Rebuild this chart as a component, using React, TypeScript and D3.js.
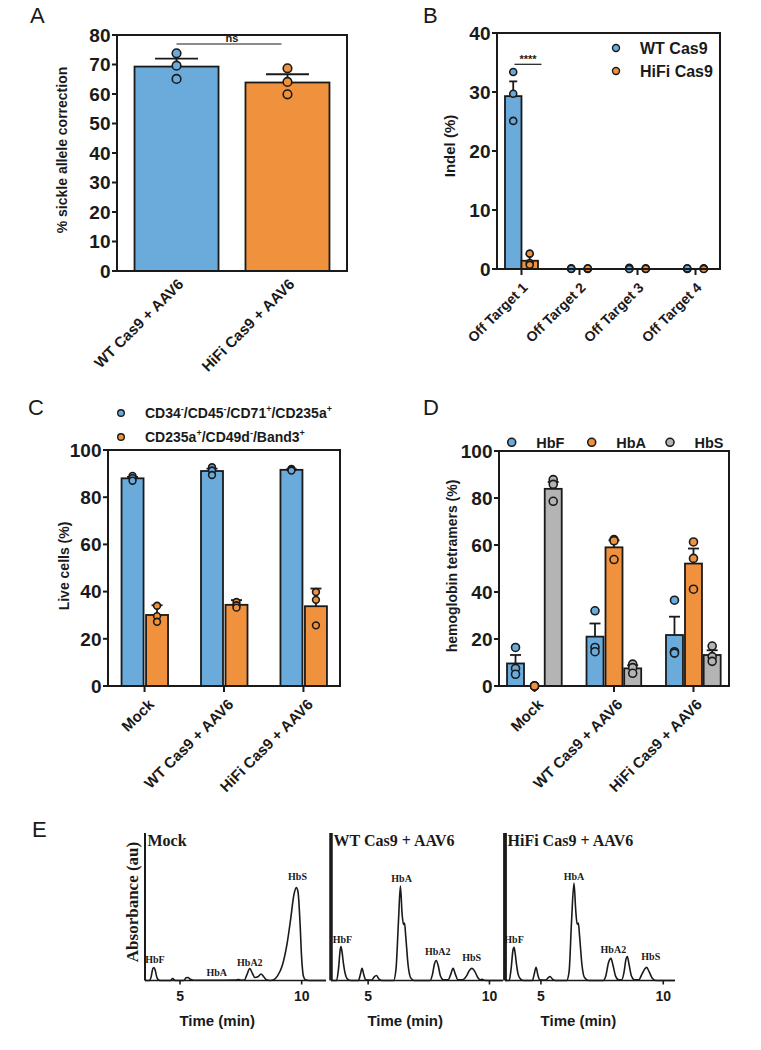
import React from "react";
import * as d3 from "d3";

// ---------- Data ----------
// Panel A
const groupsA = ["WT Cas9 + AAV6", "HiFi Cas9 + AAV6"];
const meansA = [69.3, 63.9];
const errA = [2.7, 2.8];
const pointsA = [
  [73.8, 69.6, 65.1],
  [68.7, 64.1, 59.9],
];
const ticksA = [0, 10, 20, 30, 40, 50, 60, 70, 80];

// Panel B
const targetsB = ["Off Target 1", "Off Target 2", "Off Target 3", "Off Target 4"];
const wtMeansB = [29.3, 0.05, 0.1, 0.05];
const wtErrB = [2.5, 0, 0, 0];
const wtPointsB = [
  [33.4, 29.7, 25.1],
  [0.1, 0.0, 0.05],
  [0.2, 0.1, 0.0],
  [0.05, 0.0, 0.1],
];
const hifiMeansB = [1.4, 0.05, 0.05, 0.05];
const hifiErrB = [1.1, 0, 0, 0];
const hifiPointsB = [
  [2.6, 1.0, 0.7],
  [0.05, 0.0, 0.1],
  [0.1, 0.0, 0.05],
  [0.05, 0.1, 0.0],
];
const ticksB = [0, 10, 20, 30, 40];

// Panel C & D categories
const groupsCD = ["Mock", "WT Cas9 + AAV6", "HiFi Cas9 + AAV6"];

// Panel C
const erythroidMeans = [88.0, 91.1, 91.6];
const erythroidErr = [0.6, 1.0, 0.2];
const erythroidPoints = [
  [89.0, 88.1, 87.0],
  [92.7, 91.3, 89.4],
  [92.0, 91.6, 91.3],
];
const enucleatedMeans = [30.1, 34.4, 33.8];
const enucleatedErr = [4.1, 2.0, 7.5];
const enucleatedPoints = [
  [34.0, 29.6, 27.2],
  [35.6, 34.2, 33.2],
  [39.8, 36.5, 25.7],
];
const ticksC = [0, 20, 40, 60, 80, 100];

// Panel D
const hbFMeans = [9.6, 21.0, 21.7];
const hbFErr = [3.6, 5.6, 7.8];
const hbFPoints = [
  [16.4, 7.5, 5.0],
  [32.0, 16.4, 14.6],
  [36.5, 14.6, 14.0],
];
const hbAMeans = [0, 59.0, 52.1];
const hbAErr = [0, 3.0, 6.4];
const hbAPoints = [
  [0, 0, 0],
  [62.3, 61.8, 53.8],
  [61.3, 54.3, 41.2],
];
const hbSMeans = [83.9, 7.5, 13.2];
const hbSErr = [2.9, 1.3, 2.0];
const hbSPoints = [
  [87.8, 85.8, 78.6],
  [9.3, 7.8, 5.4],
  [17.0, 12.5, 10.5],
];
const ticksD = [0, 20, 40, 60, 80, 100];

// Panel E chromatograms: [time (min), absorbance (au)]
const mockTrace: [number, number][] = [
  [3.56, 0], [3.75, 0], [3.82, 3], [3.88, 8], [3.93, 8.8], [3.98, 7], [4.05, 2], [4.12, 0.3], [4.2, 0],
  [4.6, 0], [4.7, 1.4], [4.8, 0], [5.15, 0], [5.25, 1.8], [5.33, 2], [5.42, 0.8], [5.55, 0.2],
  [6.5, 0.2], [7.3, 0.3], [7.4, 0.7], [7.5, 0.2], [7.65, 0.3], [7.75, 4], [7.87, 8.1], [7.97, 5],
  [8.08, 2], [8.2, 2.5], [8.33, 4.4], [8.42, 3], [8.55, 0.5], [8.7, 0], [8.85, 0.5], [9.0, 3],
  [9.2, 10], [9.4, 25], [9.55, 42], [9.68, 58], [9.78, 63], [9.85, 60], [9.93, 40], [10.0, 15],
  [10.07, 3], [10.15, 0.5], [10.3, 0], [11.0, 0],
];
const wtTrace: [number, number][] = [
  [3.47, 0], [3.7, 0], [3.78, 8], [3.85, 21], [3.88, 23], [3.92, 20], [3.98, 12], [4.05, 5], [4.15, 1],
  [4.3, 0], [4.6, 0], [4.68, 4], [4.75, 8.2], [4.82, 4], [4.9, 0.5], [5.15, 0.3], [5.25, 2.5],
  [5.34, 3.4], [5.45, 1], [5.6, 0], [6.05, 0], [6.15, 8], [6.25, 40], [6.33, 64], [6.4, 45],
  [6.46, 38], [6.5, 39], [6.55, 30], [6.65, 10], [6.75, 2], [6.9, 0], [7.55, 0], [7.65, 4],
  [7.73, 11], [7.81, 13.6], [7.89, 10], [7.98, 3], [8.1, 0.5], [8.3, 0.5], [8.4, 4], [8.5, 8.2],
  [8.6, 4], [8.7, 0.5], [8.9, 0.5], [9.05, 3], [9.18, 7], [9.28, 8.2], [9.4, 6], [9.52, 2],
  [9.62, 0.5], [9.7, 0.8], [9.78, 0.2], [10.0, 0], [10.55, 0],
];
const hifiTrace: [number, number][] = [
  [3.53, 0], [3.7, 0], [3.78, 8], [3.86, 21], [3.9, 22.5], [3.94, 19], [4.0, 11], [4.07, 4], [4.18, 0.8],
  [4.3, 0], [4.65, 0], [4.72, 4], [4.8, 8.9], [4.87, 4], [4.95, 0.5], [5.2, 0.3], [5.3, 2],
  [5.37, 2.7], [5.47, 1], [5.6, 0], [6.05, 0], [6.15, 6], [6.25, 40], [6.35, 66], [6.42, 48],
  [6.48, 38], [6.53, 39], [6.58, 30], [6.68, 10], [6.78, 2], [6.95, 0], [7.55, 0], [7.65, 3],
  [7.76, 12], [7.86, 15], [7.95, 10], [8.05, 3], [8.18, 0.5], [8.3, 0.5], [8.4, 6], [8.47, 14],
  [8.53, 16.3], [8.6, 11], [8.7, 3], [8.82, 0.5], [9.0, 0.5], [9.12, 4], [9.25, 8], [9.32, 8.9],
  [9.42, 6], [9.55, 1.5], [9.7, 0], [10.48, 0],
];
const mockPeakLabels: [string, number, number][] = [
  ["HbF", 3.97, 13.9], ["HbA", 6.51, 5.1], ["HbA2", 7.87, 12.1], ["HbS", 9.83, 70.4],
];
const wtPeakLabels: [string, number, number][] = [
  ["HbF", 3.94, 28.1], ["HbA", 6.38, 69.3], ["HbA2", 7.87, 19.5], ["HbS", 9.27, 15.7],
];
const hifiPeakLabels: [string, number, number][] = [
  ["HbF", 3.9, 27.5], ["HbA", 6.35, 70.8], ["HbA2", 7.96, 21.2], ["HbS", 9.49, 16.1],
];
const timeTicks = [5, 10];

// ---------- Styles ----------
const BLUE = "#6aabdc";
const ORANGE = "#f0913e";
const GRAY = "#b4b4b4";
const INK = "#1a1a1a";
const SANS = "'Liberation Sans', Arial, sans-serif";
const SERIF = "'Liberation Serif', 'Times New Roman', serif";
const TICK_SIZE = 19;

type Series = { means: number[]; err: number[]; points: number[][]; color: string };

function YAxis({ y, ticks, x0 }: { y: d3.ScaleLinear<number, number>; ticks: number[]; x0: number }) {
  return (
    <g>
      {ticks.map((t) => (
        <g key={t}>
          <line x1={x0 - 5} x2={x0} y1={y(t)} y2={y(t)} stroke={INK} strokeWidth={2} />
          <text x={x0 - 6.5} y={y(t)} dy="0.36em" textAnchor="end" fontSize={TICK_SIZE} fontWeight="bold" fontFamily={SANS} fill={INK}>
            {t}
          </text>
        </g>
      ))}
    </g>
  );
}

function BarsWithPoints({
  series, cx, width, y, cap, r,
}: {
  series: Series; cx: (i: number) => number; width: number; y: d3.ScaleLinear<number, number>; cap: number; r: number;
}) {
  return (
    <g>
      {series.means.map((m, i) => {
        const c = cx(i);
        return (
          <g key={i}>
            {m > 0.3 && (
              <rect x={c - width / 2} y={y(m)} width={width} height={y(0) - y(m)} fill={series.color} stroke={INK} strokeWidth={1.8} />
            )}
            {series.err[i] > 0 && (
              <g stroke={INK} strokeWidth={1.8}>
                <line x1={c} x2={c} y1={y(m)} y2={y(m + series.err[i])} />
                <line x1={c - cap / 2} x2={c + cap / 2} y1={y(m + series.err[i])} y2={y(m + series.err[i])} />
              </g>
            )}
            {series.points[i].map((p, j) => (
              <circle key={j} cx={c} cy={y(p)} r={r} fill={series.color} stroke={INK} strokeWidth={1.6} />
            ))}
          </g>
        );
      })}
    </g>
  );
}

function RotLabels({ labels, xs, y0, dx, dy, size }: { labels: string[]; xs: number[]; y0: number; dx: number; dy: number; size: number }) {
  return (
    <g>
      {labels.map((l, i) => (
        <text key={l} transform={`translate(${xs[i] + dx},${y0 + dy}) rotate(-45)`} textAnchor="end" fontSize={size} fontWeight="bold" fontFamily={SANS} fill={INK}>
          {l}
        </text>
      ))}
    </g>
  );
}

function PanelA() {
  const x = d3.scaleBand().domain(groupsA).range([117, 347]).paddingInner(0.243).paddingOuter(0.158);
  const y = d3.scaleLinear().domain([0, 80]).range([271, 35]);
  const bw = x.bandwidth();
  const cx = (i: number) => (x(groupsA[i]) as number) + bw / 2;
  const colors = [BLUE, ORANGE];
  return (
    <g>
      <text x={30} y={23} fontSize={22} fontFamily={SANS} fill={INK}>A</text>
      {groupsA.map((g, i) => (
        <BarsWithPoints
          key={g}
          series={{ means: [meansA[i]], err: [errA[i]], points: [pointsA[i]], color: colors[i] }}
          cx={() => cx(i)}
          width={bw}
          y={y}
          cap={43}
          r={4.3}
        />
      ))}
      <rect x={117} y={35} width={230} height={236} fill="none" stroke={INK} strokeWidth={2} />
      <YAxis y={y} ticks={ticksA} x0={117} />
      <line x1={cx(0)} x2={cx(1) - 6} y1={44} y2={44} stroke={INK} strokeWidth={1.2} />
      <text x={(cx(0) + cx(1)) / 2} y={42} textAnchor="middle" fontSize={11} fontWeight="bold" fontFamily={SANS} fill={INK}>ns</text>
      <text transform={`translate(67,150) rotate(-90)`} textAnchor="middle" fontSize={14} fontWeight="bold" fontFamily={SANS} fill={INK}>
        % sickle allele correction
      </text>
      <RotLabels labels={groupsA} xs={[cx(0), cx(1)]} y0={271} dx={8} dy={14} size={15} />
    </g>
  );
}

function PanelB() {
  const x = d3.scalePoint().domain(targetsB).range([497, 720]).padding(0.422);
  const y = d3.scaleLinear().domain([0, 40]).range([269, 33]);
  const bw = 16.5;
  const cx = (i: number) => x(targetsB[i]) as number;
  return (
    <g>
      <text x={423} y={23} fontSize={22} fontFamily={SANS} fill={INK}>B</text>
      <BarsWithPoints series={{ means: wtMeansB, err: wtErrB, points: wtPointsB, color: BLUE }} cx={(i) => cx(i) - bw / 2} width={bw} y={y} cap={8} r={3.5} />
      <BarsWithPoints series={{ means: hifiMeansB, err: hifiErrB, points: hifiPointsB, color: ORANGE }} cx={(i) => cx(i) + bw / 2} width={bw} y={y} cap={8} r={3.5} />
      <rect x={497} y={33} width={223} height={236} fill="none" stroke={INK} strokeWidth={2} />
      <YAxis y={y} ticks={ticksB} x0={497} />
      {targetsB.map((t, i) => (
        <line key={t} x1={cx(i)} x2={cx(i)} y1={269} y2={275} stroke={INK} strokeWidth={2} />
      ))}
      <line x1={cx(0) - 7} x2={cx(0) + 20} y1={64.3} y2={64.3} stroke={INK} strokeWidth={1.2} />
      <text x={cx(0) + 6.5} y={63} textAnchor="middle" fontSize={11} fontWeight="bold" fontFamily={SANS} fill={INK}>****</text>
      <circle cx={616} cy={48} r={3.5} fill={BLUE} stroke={INK} strokeWidth={1.4} />
      <text x={640} y={54} fontSize={16} fontWeight="bold" fontFamily={SANS} fill={INK}>WT Cas9</text>
      <circle cx={616} cy={71} r={3.5} fill={ORANGE} stroke={INK} strokeWidth={1.4} />
      <text x={640} y={77} fontSize={16} fontWeight="bold" fontFamily={SANS} fill={INK}>HiFi Cas9</text>
      <text transform={`translate(455,146) rotate(-90)`} textAnchor="middle" fontSize={15} fontWeight="bold" fontFamily={SANS} fill={INK}>
        Indel (%)
      </text>
      <RotLabels labels={targetsB} xs={targetsB.map((_, i) => cx(i))} y0={269} dx={7} dy={19.5} size={14} />
    </g>
  );
}

function PanelC() {
  const x = d3.scalePoint().domain(groupsCD).range([108, 340]).padding(0.46);
  const y = d3.scaleLinear().domain([0, 100]).range([686, 450]);
  const bw = 22;
  const cx = (i: number) => x(groupsCD[i]) as number;
  return (
    <g>
      <text x={28} y={415} fontSize={22} fontFamily={SANS} fill={INK}>C</text>
      <circle cx={121} cy={413} r={3.3} fill={BLUE} stroke={INK} strokeWidth={1.4} />
      <text x={145} y={418} fontSize={14} fontWeight="bold" fontFamily={SANS} fill={INK}>
        CD34<tspan fontSize={9} dy={-6}>-</tspan>
        <tspan dy={6}>/CD45</tspan>
        <tspan fontSize={9} dy={-6}>-</tspan>
        <tspan dy={6}>/CD71</tspan>
        <tspan fontSize={9} dy={-6}>+</tspan>
        <tspan dy={6}>/CD235a</tspan>
        <tspan fontSize={9} dy={-6}>+</tspan>
      </text>
      <circle cx={121} cy={437} r={3.3} fill={ORANGE} stroke={INK} strokeWidth={1.4} />
      <text x={145} y={442} fontSize={14} fontWeight="bold" fontFamily={SANS} fill={INK}>
        CD235a<tspan fontSize={9} dy={-6}>+</tspan>
        <tspan dy={6}>/CD49d</tspan>
        <tspan fontSize={9} dy={-6}>-</tspan>
        <tspan dy={6}>/Band3</tspan>
        <tspan fontSize={9} dy={-6}>+</tspan>
      </text>
      <BarsWithPoints series={{ means: erythroidMeans, err: erythroidErr, points: erythroidPoints, color: BLUE }} cx={(i) => cx(i) - 12} width={bw} y={y} cap={11} r={3.4} />
      <BarsWithPoints series={{ means: enucleatedMeans, err: enucleatedErr, points: enucleatedPoints, color: ORANGE }} cx={(i) => cx(i) + 12.5} width={bw} y={y} cap={11} r={3.4} />
      <rect x={108} y={450} width={232} height={236} fill="none" stroke={INK} strokeWidth={2} />
      <YAxis y={y} ticks={ticksC} x0={108} />
      {groupsCD.map((g, i) => (
        <line key={g} x1={cx(i)} x2={cx(i)} y1={686} y2={692} stroke={INK} strokeWidth={2} />
      ))}
      <text transform={`translate(69,566) rotate(-90)`} textAnchor="middle" fontSize={14} fontWeight="bold" fontFamily={SANS} fill={INK}>
        Live cells (%)
      </text>
      <RotLabels labels={groupsCD} xs={groupsCD.map((_, i) => cx(i))} y0={686} dx={10.4} dy={19.4} size={15} />
    </g>
  );
}

function PanelD() {
  const x = d3.scalePoint().domain(groupsCD).range([499, 729]).padding(0.447);
  const y = d3.scaleLinear().domain([0, 100]).range([686, 451]);
  const bw = 17;
  const cx = (i: number) => x(groupsCD[i]) as number;
  const legend: [string, string, number][] = [["HbF", BLUE, 511.7], ["HbA", ORANGE, 591.7], ["HbS", GRAY, 670]];
  return (
    <g>
      <text x={423} y={415} fontSize={22} fontFamily={SANS} fill={INK}>D</text>
      {legend.map(([n, c, lx]) => (
        <g key={n}>
          <circle cx={lx} cy={442.3} r={4} fill={c} stroke={INK} strokeWidth={1.6} />
          <text x={lx + 24.5} y={447.5} fontSize={14.5} fontWeight="bold" fontFamily={SANS} fill={INK}>{n}</text>
        </g>
      ))}
      <BarsWithPoints series={{ means: hbFMeans, err: hbFErr, points: hbFPoints, color: BLUE }} cx={(i) => cx(i) - 19} width={bw} y={y} cap={11} r={4} />
      <BarsWithPoints series={{ means: hbAMeans, err: hbAErr, points: hbAPoints, color: ORANGE }} cx={(i) => cx(i)} width={bw} y={y} cap={11} r={4} />
      <BarsWithPoints series={{ means: hbSMeans, err: hbSErr, points: hbSPoints, color: GRAY }} cx={(i) => cx(i) + 18.7} width={bw} y={y} cap={11} r={4} />
      <rect x={499} y={451} width={230} height={235} fill="none" stroke={INK} strokeWidth={2} />
      <YAxis y={y} ticks={ticksD} x0={499} />
      {groupsCD.map((g, i) => (
        <line key={g} x1={cx(i)} x2={cx(i)} y1={686} y2={692} stroke={INK} strokeWidth={2} />
      ))}
      <circle cx={cx(0)} cy={y(0)} r={4} fill={ORANGE} stroke={INK} strokeWidth={1.6} />
      <text transform={`translate(457,566) rotate(-90)`} textAnchor="middle" fontSize={14} fontWeight="bold" fontFamily={SANS} fill={INK}>
        hemoglobin tetramers (%)
      </text>
      <RotLabels labels={groupsCD} xs={groupsCD.map((_, i) => cx(i))} y0={686} dx={9.5} dy={19.4} size={15} />
    </g>
  );
}

function Chromatogram({
  trace, labels, title, t0, t1, x0, x1, axisW,
}: {
  trace: [number, number][]; labels: [string, number, number][]; title: string; t0: number; t1: number; x0: number; x1: number; axisW: number;
}) {
  const x = d3.scaleLinear().domain([t0, t1]).range([x0, x1]);
  const y = d3.scaleLinear().domain([0, 100]).range([980.5, 833]);
  const line = d3.line<[number, number]>().x((d) => x(d[0])).y((d) => y(d[1])).curve(d3.curveMonotoneX);
  return (
    <g>
      <line x1={x0} x2={x1} y1={y(0)} y2={y(0)} stroke={INK} strokeWidth={1.6} />
      {timeTicks.map((t) => (
        <g key={t}>
          <line x1={x(t)} x2={x(t)} y1={y(0)} y2={y(0) + 4} stroke={INK} strokeWidth={1.6} />
          <text x={x(t)} y={1001} textAnchor="middle" fontSize={14} fontWeight="bold" fontFamily={SANS} fill={INK}>{t}</text>
        </g>
      ))}
      <path d={line(trace) || ""} fill="none" stroke={INK} strokeWidth={1.6} />
      <line x1={x0} x2={x0} y1={833} y2={y(0)} stroke={INK} strokeWidth={axisW} />
      <text x={x0 + 2.5} y={845.5} fontSize={16} fontWeight="bold" fontFamily={SERIF} fill={INK}>{title}</text>
      {labels.map(([n, t, v]) => (
        <text key={n} x={x(t)} y={y(v)} dy="0.35em" textAnchor="middle" fontSize={10} fontWeight="bold" fontFamily={SERIF} fill={INK}>{n}</text>
      ))}
      <text x={x(6.53)} y={1026} textAnchor="middle" fontSize={15} fontWeight="bold" fontFamily={SANS} fill={INK}>Time (min)</text>
    </g>
  );
}

function PanelE() {
  return (
    <g>
      <text x={32} y={837} fontSize={22} fontFamily={SANS} fill={INK}>E</text>
      <text transform={`translate(138,902) rotate(-90)`} textAnchor="middle" fontSize={17} fontWeight="bold" fontFamily={SERIF} fill={INK}>
        Absorbance (au)
      </text>
      <Chromatogram trace={mockTrace} labels={mockPeakLabels} title="Mock" t0={3.56} t1={11.0} x0={145} x1={326} axisW={2} />
      <Chromatogram trace={wtTrace} labels={wtPeakLabels} title="WT Cas9 + AAV6" t0={3.47} t1={10.55} x0={331} x1={502.8} axisW={3.5} />
      <Chromatogram trace={hifiTrace} labels={hifiPeakLabels} title="HiFi Cas9 + AAV6" t0={3.53} t1={10.48} x0={505} x1={675} axisW={3.8} />
    </g>
  );
}

export default function App() {
  return (
    <svg width={761} height={1050} style={{ position: "absolute", left: 0, top: 0, background: "#fff" }} fontFamily={SANS}>
      <rect width={761} height={1050} fill="#fff" />
      <PanelA />
      <PanelB />
      <PanelC />
      <PanelD />
      <PanelE />
    </svg>
  );
}
